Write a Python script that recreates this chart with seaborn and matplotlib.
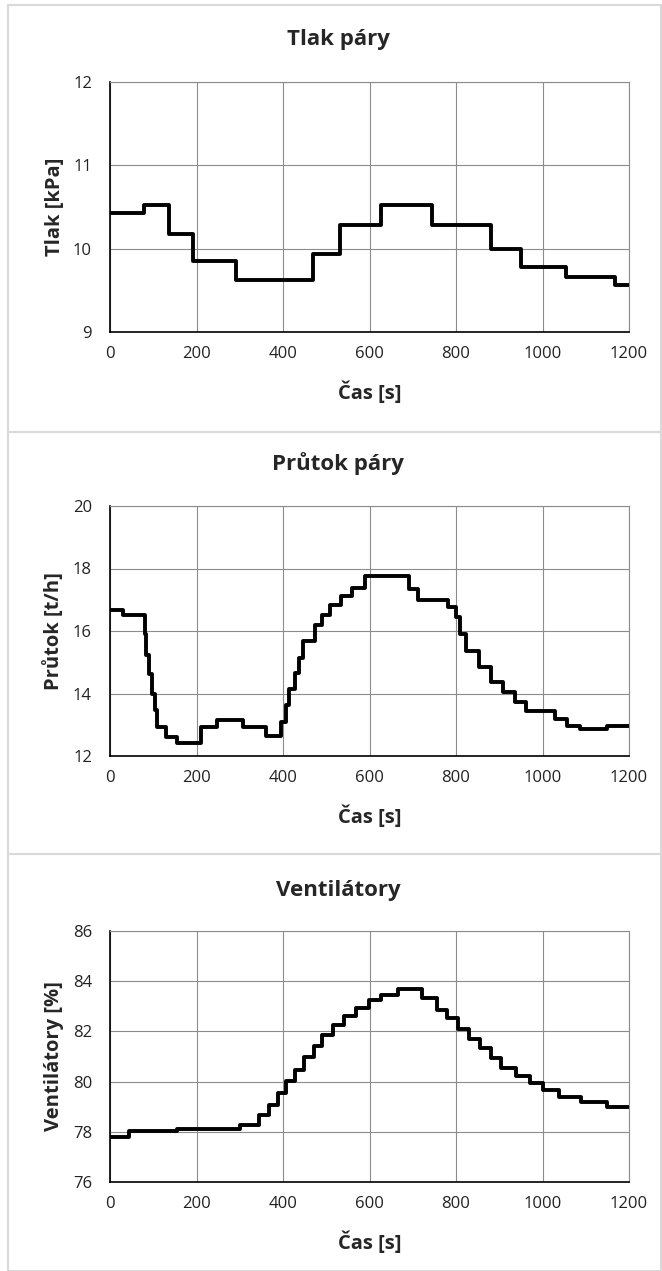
import numpy as np
import pandas as pd
import matplotlib
matplotlib.use("Agg")
import matplotlib.pyplot as plt
import seaborn as sns
from matplotlib.patches import Rectangle

# data (step changes, value holds until next time)
tlak_t = [0, 78, 137, 191, 292, 470, 531, 626, 744, 880, 950, 1054, 1167, 1200]
tlak_v = [10.43, 10.53, 10.18, 9.85, 9.63, 9.94, 10.28, 10.53, 10.28, 10.0, 9.78, 9.66, 9.56, 9.56]

prutok_t = [0, 31, 80, 84, 90, 96, 103, 109, 130, 155,
            211, 248, 307, 360, 395, 406, 414, 427, 437, 447,
            473, 491, 509, 534, 559, 590, 691, 713, 781, 799,
            810, 824, 853, 880, 909, 936, 961, 1028, 1056, 1086,
            1149, 1200]
prutok_v = [16.67, 16.5, 15.92, 15.23, 14.61, 14.0, 13.47, 12.94, 12.62, 12.43,
            12.94, 13.15, 12.94, 12.65, 13.1, 13.63, 14.13, 14.66, 15.15, 15.69,
            16.19, 16.52, 16.82, 17.12, 17.39, 17.75, 17.35, 16.99, 16.77, 16.45,
            15.90, 15.37, 14.86, 14.36, 14.06, 13.74, 13.43, 13.18, 12.96, 12.85,
            12.95, 12.95]

vent_t = [0, 43, 155, 300, 344, 367, 388, 408, 427, 448,
          471, 491, 515, 541, 568, 598, 626, 666, 722, 757,
          780, 805, 829, 855, 880, 904, 939, 971, 1002, 1037,
          1089, 1149, 1200]
vent_v = [77.78, 78.03, 78.10, 78.26, 78.66, 79.08, 79.55, 80.02, 80.48, 80.99,
          81.43, 81.85, 82.25, 82.61, 82.95, 83.27, 83.45, 83.69, 83.34, 82.87,
          82.53, 82.09, 81.69, 81.32, 80.93, 80.55, 80.22, 79.95, 79.66, 79.39,
          79.19, 78.99, 78.99]

titles = ["Tlak páry", "Průtok páry", "Ventilátory"]
ylabels = ["Tlak [kPa]", "Průtok [t/h]", "Ventilátory [%]"]
yticks = [[9, 10, 11, 12], [12, 14, 16, 18, 20], [76, 78, 80, 82, 84, 86]]
xticks = [0, 200, 400, 600, 800, 1000, 1200]

sns.set_style("white")
plt.rcParams['font.family'] = ['Open Sans', 'DejaVu Sans']

W, H = 662, 1271
fig = plt.figure(figsize=(W / 100, H / 100), dpi=100)

# panel frames (light gray Excel chart borders)
for top, bot in [(5, 432), (432, 854), (854, 1271)]:
    fig.add_artist(Rectangle((8 / W, 1 - bot / H), 653 / W, (bot - top) / H,
                             transform=fig.transFigure, fill=False,
                             edgecolor="#d9d9d9", linewidth=1.5))

# axes boxes in pixels: (top, bottom)
boxes = [(82, 332), (506, 756), (931, 1182)]
title_base = [45, 470, 896]
series = [(tlak_t, tlak_v), (prutok_t, prutok_v), (vent_t, vent_v)]

for i in range(3):
    top, bot = boxes[i]
    ax = fig.add_axes([110 / W, 1 - bot / H, 519 / W, (bot - top) / H])
    df = pd.DataFrame({"t": series[i][0], "v": series[i][1]})
    sns.lineplot(data=df, x="t", y="v", ax=ax, color="black", linewidth=2.8,
                 drawstyle="steps-post", estimator=None, sort=False)
    ax.set_xlim(0, 1200)
    ax.set_ylim(yticks[i][0], yticks[i][-1])
    ax.set_xticks(xticks)
    ax.set_yticks(yticks[i])
    ax.grid(True, color="#8c8c8c", linewidth=0.8)
    ax.tick_params(length=0, labelsize=12, colors="#222222")
    ax.tick_params(axis="x", pad=10)
    ax.tick_params(axis="y", pad=13)
    for s in ["top", "right"]:
        ax.spines[s].set_color("#8c8c8c")
        ax.spines[s].set_linewidth(0.8)
    for s in ["left", "bottom"]:
        ax.spines[s].set_color("black")
        ax.spines[s].set_linewidth(1.2)
    ax.set_xlabel("Čas [s]", fontsize=14.5, fontweight="bold", labelpad=14)
    ax.set_ylabel(ylabels[i], fontsize=14.5, fontweight="bold", labelpad=6)
    fig.text(338 / W, 1 - title_base[i] / H, titles[i], ha="center", va="baseline",
             fontsize=16, fontweight="bold")

fig.savefig("out.png", dpi=100)
